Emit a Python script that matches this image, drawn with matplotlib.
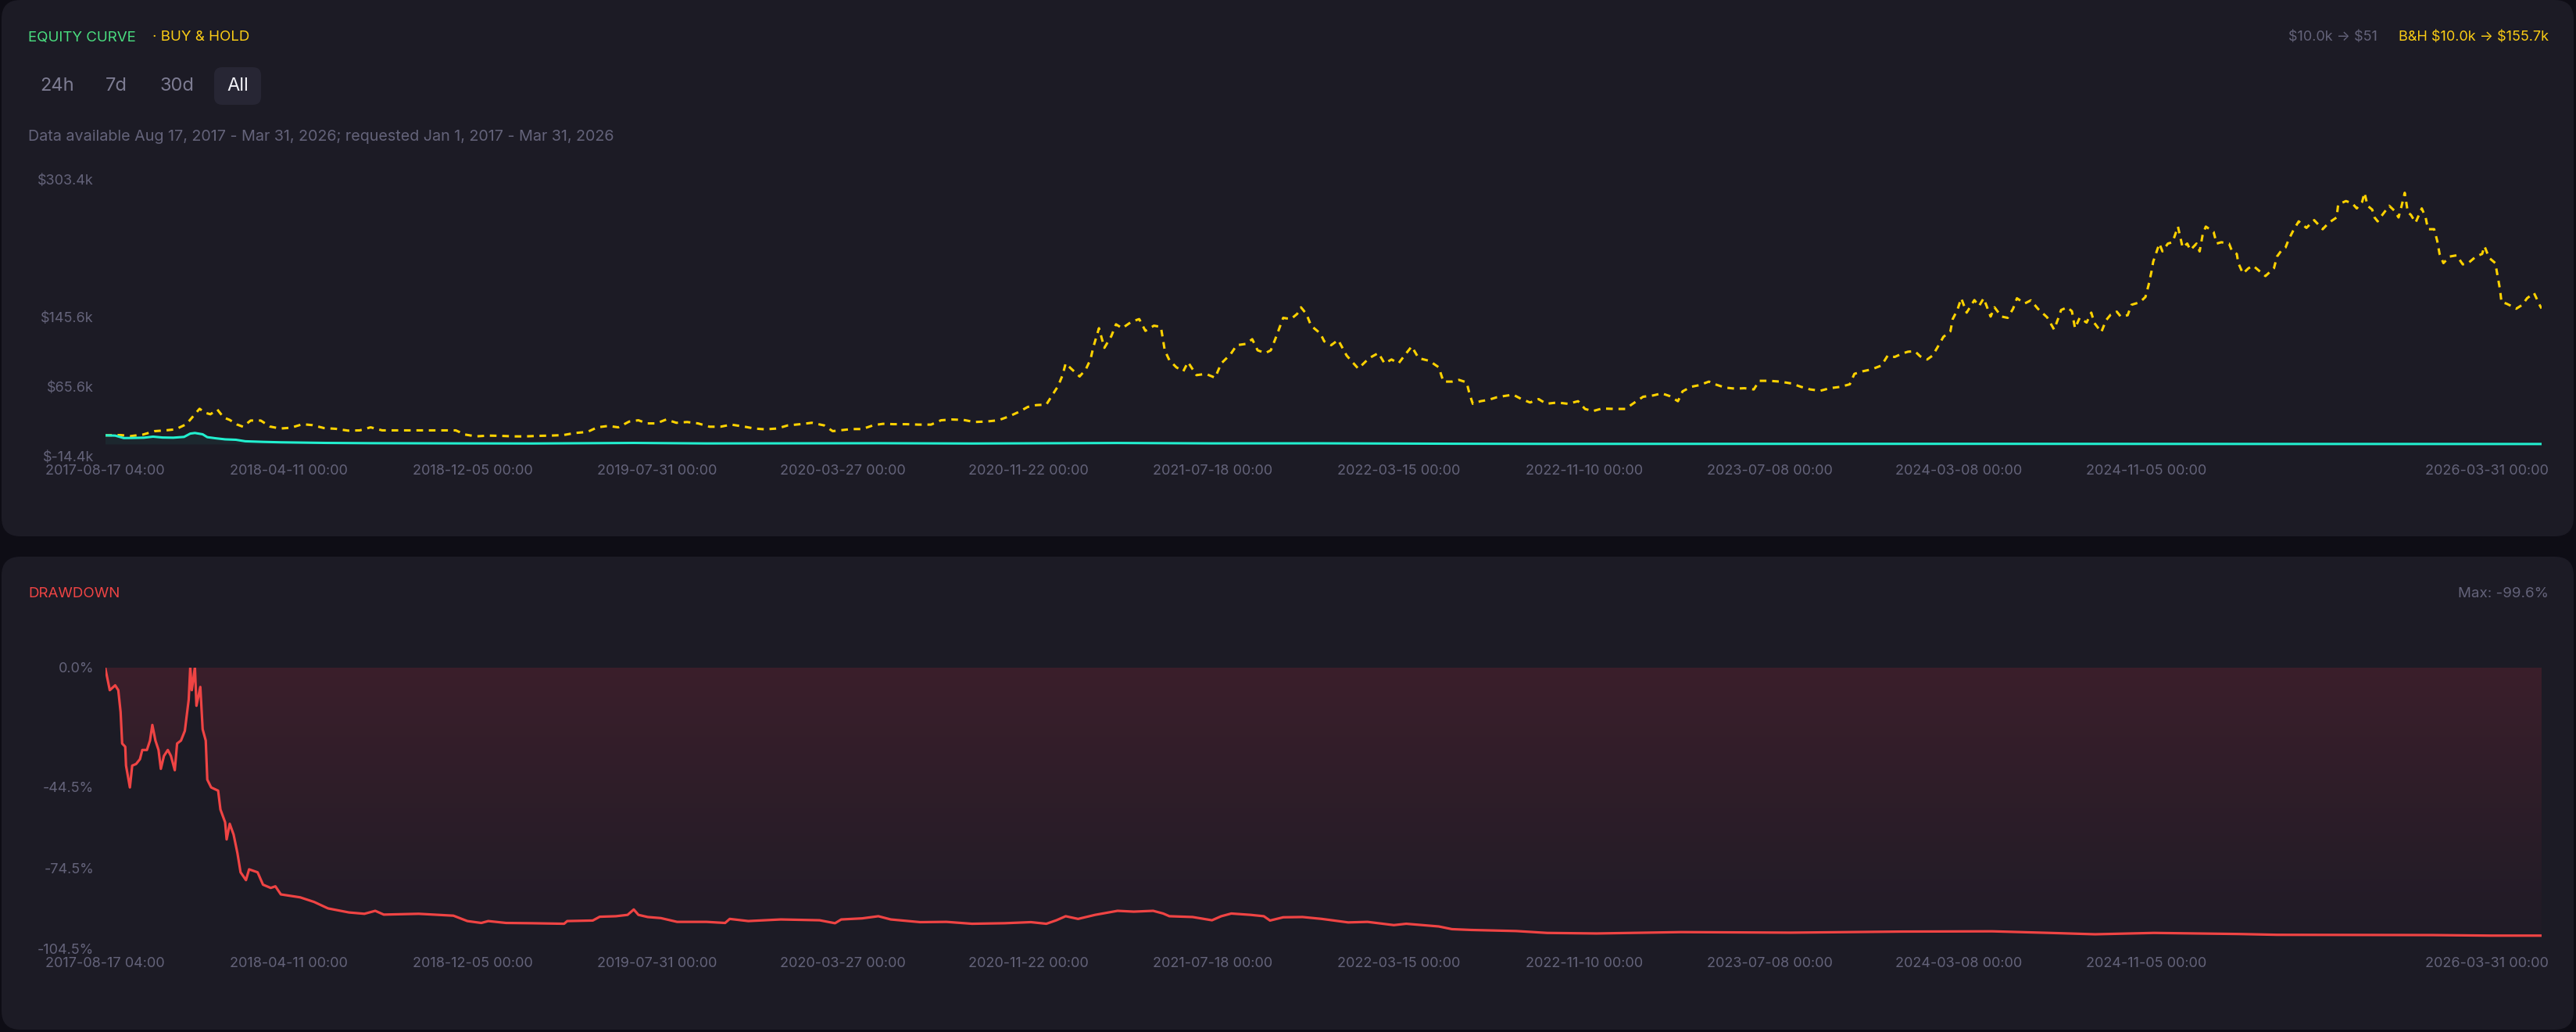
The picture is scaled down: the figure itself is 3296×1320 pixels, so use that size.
import numpy as np
import pandas as pd
import matplotlib
matplotlib.use("Agg")
import matplotlib.pyplot as plt
from matplotlib.patches import FancyBboxPatch
from matplotlib.colors import LinearSegmentedColormap
from matplotlib.transforms import ScaledTranslation

plt.rcParams['font.family'] = ['Inter', 'DejaVu Sans']

# ---- data (days after 2017-08-17 04:00) ----
start = pd.Timestamp("2017-08-17 04:00")
end = pd.Timestamp("2026-03-31 00:00")

bh_days = [0, 20, 33, 49, 64, 78, 91, 105, 116, 122, 129, 136, 145, 153, 161, 170, 178, 188, 201, 213,
           226, 240, 255, 268, 283, 298, 314, 329, 343, 358, 373, 390, 420, 453, 465, 479, 495, 511, 527, 543,
           560, 576, 592, 607, 623, 636, 650, 663, 677, 689, 700, 712, 725, 738, 752, 766, 781, 795, 809, 825,
           839, 853, 868, 882, 898, 913, 929, 940, 949, 964, 978, 993, 1005, 1019, 1035, 1051, 1067, 1080, 1094, 1109,
           1123, 1139, 1154, 1168, 1180, 1192, 1203, 1216, 1223, 1231, 1237, 1241, 1248, 1259, 1267, 1273, 1277, 1284, 1291, 1300,
           1306, 1314, 1326, 1336, 1344, 1355, 1364, 1369, 1375, 1384, 1393, 1399, 1410, 1422, 1434, 1442, 1454, 1462, 1474, 1482,
           1489, 1499, 1506, 1512, 1517, 1522, 1532, 1540, 1545, 1552, 1558, 1570, 1575, 1584, 1593, 1604, 1619, 1633, 1645, 1653,
           1662, 1671, 1680, 1688, 1697, 1711, 1723, 1729, 1740, 1749, 1759, 1763, 1767, 1777, 1787, 1798, 1808, 1819, 1830, 1841,
           1852, 1862, 1876, 1890, 1903, 1912, 1922, 1934, 1950, 1964, 1976, 1987, 2000, 2011, 2021, 2032, 2038, 2049, 2060, 2072,
           2080, 2093, 2106, 2118, 2130, 2137, 2150, 2164, 2179, 2191, 2203, 2216, 2228, 2242, 2254, 2260, 2271, 2282, 2295, 2303,
           2312, 2321, 2329, 2338, 2345, 2354, 2361, 2368, 2375, 2384, 2387, 2393, 2398, 2405, 2415, 2421, 2427, 2436, 2441, 2450,
           2458, 2465, 2470, 2480, 2488, 2497, 2509, 2518, 2523, 2527, 2535, 2541, 2545, 2551, 2560, 2566, 2570, 2579, 2585, 2591,
           2599, 2604, 2613, 2618, 2629, 2636, 2640, 2644, 2646, 2654, 2658, 2665, 2671, 2678, 2684, 2690, 2694, 2702, 2706, 2710,
           2714, 2724, 2728, 2734, 2744, 2748, 2754, 2756, 2762, 2769, 2775, 2783, 2791, 2802, 2806, 2812, 2817, 2821, 2827, 2834,
           2844, 2854, 2865, 2873, 2883, 2885, 2895, 2903, 2909, 2916, 2919, 2923, 2929, 2932, 2936, 2942, 2951, 2958, 2963, 2967,
           2971, 2975, 2979, 2985, 2993, 2998, 3001, 3009, 3013, 3016, 3021, 3029, 3038, 3046, 3053, 3063, 3071, 3074, 3080, 3088,
           3091, 3094, 3096, 3102, 3109, 3115, 3123, 3129, 3138, 3142, 3146, 3147.8]
bh_vals = [10.0, 10.3, 9.1, 10.9, 14.8, 15.7, 16.9, 22.8, 34.2, 40.5, 36.0, 34.2, 39.6, 30.6, 27.7, 22.6, 19.9, 27.0, 27.0, 20.1,
           17.8, 18.7, 22.8, 21.7, 18.3, 17.5, 15.4, 15.7, 19.2, 15.7, 15.7, 15.7, 15.7, 15.7, 10.9, 8.8, 9.7, 9.4, 8.8, 8.8,
           9.4, 9.7, 10.3, 12.7, 13.9, 19.2, 20.8, 19.2, 25.8, 27.3, 23.7, 23.7, 28.2, 24.4, 25.3, 23.7, 19.9, 19.9, 22.3, 20.1,
           17.8, 16.9, 17.8, 21.4, 22.8, 24.4, 21.4, 14.8, 15.7, 17.2, 17.2, 21.7, 23.2, 22.8, 22.8, 22.3, 22.3, 27.3, 28.2, 27.7,
           25.3, 25.9, 27.3, 31.8, 36.7, 42.6, 44.7, 45.3, 55.2, 66.3, 79.1, 92.6, 86.6, 77.6, 85.7, 97.1, 112.1, 133.0, 110.5, 124.0,
           137.5, 133.0, 140.4, 143.5, 130.0, 135.9, 134.5, 107.6, 96.2, 88.1, 83.6, 94.1, 79.1, 80.6, 76.2, 92.6, 103.1, 113.5, 115.0, 120.4,
           107.6, 104.5, 107.6, 121.0, 133.0, 144.9, 143.5, 149.4, 157.0, 149.4, 135.9, 127.0, 118.0, 113.5, 119.5, 101.6, 86.6, 98.6, 104.5, 92.6,
           97.1, 92.6, 103.1, 112.1, 98.6, 95.5, 88.1, 71.7, 71.7, 73.7, 70.8, 56.7, 46.2, 49.2, 50.7, 53.7, 55.2, 56.7, 51.6, 47.7,
           51.6, 46.2, 47.7, 46.2, 49.2, 40.3, 37.8, 40.8, 40.3, 40.3, 47.7, 54.3, 55.8, 58.2, 55.2, 49.2, 60.5, 65.7, 67.7, 71.7,
           68.6, 64.8, 63.6, 64.1, 62.7, 72.6, 72.6, 71.7, 69.5, 65.7, 62.7, 61.2, 64.1, 65.7, 68.6, 80.6, 83.6, 85.7, 90.2, 101.6,
           100.0, 103.6, 106.0, 106.7, 100.7, 97.1, 101.6, 112.1, 123.1, 129.4, 143.5, 153.9, 167.4, 150.9, 165.3, 158.4, 167.4, 146.4, 157.0, 146.4,
           144.9, 155.4, 167.4, 161.4, 165.0, 155.4, 145.5, 131.5, 143.5, 153.9, 157.0, 152.5, 133.0, 144.9, 139.5, 150.9, 139.0, 128.5, 142.0, 148.5,
           152.0, 146.4, 147.9, 159.9, 162.9, 168.9, 182.4, 198.8, 209.3, 230.2, 221.2, 230.2, 231.7, 249.7, 225.7, 230.2, 222.7, 230.2, 221.2, 240.7,
           249.7, 243.7, 230.2, 231.7, 230.2, 221.2, 218.3, 207.8, 195.8, 201.8, 204.8, 198.8, 192.9, 201.8, 215.3, 222.7, 225.7, 234.7, 245.2, 255.7,
           248.2, 257.1, 246.7, 254.2, 260.2, 275.1, 279.0, 276.6, 270.6, 278.1, 288.5, 273.6, 269.2, 260.2, 255.7, 263.1, 273.6, 267.6, 260.2, 273.6,
           288.5, 266.1, 263.1, 254.2, 270.6, 260.2, 246.7, 246.7, 233.2, 218.3, 207.8, 215.3, 216.7, 206.3, 207.8, 215.3, 218.3, 227.2, 213.8, 207.8,
           192.9, 177.9, 162.9, 161.4, 158.4, 155.4, 159.9, 167.4, 173.4, 165.9, 158.4, 155.7]

eq_days = [0, 13, 24, 35, 50, 62, 74, 88, 102, 110, 116, 126, 132, 143, 155, 169, 181, 204, 227, 285,
           343, 459, 551, 683, 777, 999, 1120, 1308, 1430, 1572, 1740, 1863, 2036, 2438, 2806, 3147.8]
eq_vals = [10.0, 9.7, 6.9, 7.0, 7.3, 8.5, 7.5, 7.3, 8.2, 12.0, 12.7, 11.2, 7.9, 6.6, 5.4, 4.9, 3.2, 2.5, 2.0, 1.3,
           1.0, 0.75, 0.63, 1.28, 0.70, 0.96, 0.61, 1.22, 0.77, 0.84, 0.36, 0.18, 0.21, 0.25, 0.09, 0.051]

dd_days = [0, 6, 13, 17, 20, 22, 26, 27, 32, 35, 40, 45, 48, 54, 58, 61, 65, 69, 72, 76,
           81, 85, 90, 93, 98, 103, 108, 110, 112, 116, 118, 123, 126, 130, 132, 137, 146, 149, 155, 157,
           161, 166, 171, 175, 182, 186, 197, 204, 214, 220, 227, 252, 270, 288, 315, 335, 349, 360, 405, 450,
           468, 486, 495, 518, 551, 593, 597, 630, 639, 660, 675, 683, 689, 701, 718, 739, 777, 801, 807, 831,
           873, 923, 943, 951, 978, 999, 1015, 1053, 1087, 1120, 1162, 1196, 1216, 1229, 1241, 1257, 1279, 1308, 1329, 1354,
           1367, 1375, 1405, 1430, 1442, 1455, 1480, 1497, 1505, 1522, 1547, 1572, 1606, 1631, 1665, 1681, 1723, 1740, 1765, 1823,
           1863, 1927, 2036, 2178, 2321, 2438, 2513, 2571, 2647, 2756, 2806, 3007, 3082, 3147.8]
dd_vals = [0, -8.5, -6.7, -8.5, -16.6, -28.3, -29.5, -36.5, -44.6, -36.5, -35.9, -34.1, -30.7, -30.7, -27.2, -21.4, -27.2, -30.7, -37.7, -32.9,
           -30.7, -32.9, -38.2, -28.3, -27.2, -23.6, -12.0, 0, -8.5, 0, -14.3, -7.3, -23.0, -27.2, -41.7, -44.6, -45.8, -52.8, -57.5, -63.9,
           -58.1, -62.1, -69.1, -76.1, -79.0, -75.0, -76.1, -80.7, -81.9, -81.3, -84.3, -85.4, -87.1, -89.5, -91.0, -91.5, -90.4, -91.8, -91.5, -92.2,
           -94.2, -94.9, -94.2, -94.9, -95.0, -95.2, -94.2, -94.0, -92.6, -92.4, -91.9, -89.9, -91.9, -92.7, -93.1, -94.5, -94.5, -94.9, -93.4, -94.2,
           -93.6, -93.9, -95.0, -93.6, -93.2, -92.4, -93.6, -94.6, -94.5, -95.2, -95.0, -94.6, -95.2, -93.9, -92.4, -93.4, -91.9, -90.4, -90.7, -90.4,
           -91.4, -92.4, -92.7, -93.9, -92.4, -91.4, -91.9, -92.4, -94.0, -92.8, -92.7, -93.4, -94.7, -94.5, -95.7, -95.2, -96.2, -97.2, -97.5, -97.9,
           -98.6, -98.8, -98.3, -98.5, -98.1, -98.0, -98.6, -99.1, -98.6, -99.0, -99.3, -99.4, -99.6, -99.6]

xtick_dates = ["2017-08-17 04:00", "2018-04-11 00:00", "2018-12-05 00:00", "2019-07-31 00:00", "2020-03-27 00:00",
               "2020-11-22 00:00", "2021-07-18 00:00", "2022-03-15 00:00", "2022-11-10 00:00", "2023-07-08 00:00",
               "2024-03-08 00:00", "2024-11-05 00:00", "2026-03-31 00:00"]
eq_ticks = [-14.4, 65.6, 145.6, 303.4]
eq_ticklabels = ["$-14.4k", "$65.6k", "$145.6k", "$303.4k"]
dd_ticks = [-104.5, -74.5, -44.5, 0.0]
dd_ticklabels = ["-104.5%", "-74.5%", "-44.5%", "0.0%"]

# ---- colours ----
OUTER = "#0e0d15"
CARD = "#1c1b25"
GRAY = "#64637a"
GREEN = "#4ade80"
GOLD = "#facc15"
TEAL = "#22efcf"
RED = "#ef4444"

def to_dates(days):
    return start + pd.to_timedelta(np.asarray(days, dtype=float), unit="D")

bh_x = to_dates(bh_days)
eq_x = to_dates(eq_days)
dd_x = to_dates(dd_days)

W, H = 3296, 1320
fig = plt.figure(figsize=(W / 100, H / 100), dpi=100, facecolor=OUTER)

# background cards, drawn in pixel coordinates
bg = fig.add_axes([0, 0, 1, 1], zorder=-5)
bg.set_xlim(0, W)
bg.set_ylim(H, 0)
bg.axis("off")
for y0, y1 in [(0, 686), (712, 1317)]:
    bg.add_patch(FancyBboxPatch((2, y0), 3291, y1 - y0, boxstyle="round,pad=0,rounding_size=24",
                                fc=CARD, ec="none"))

# header texts
bg.text(36, 48, "EQUITY CURVE", color=GREEN, fontsize=13.5, va="center", ha="left")
bg.text(195, 48, "· BUY & HOLD", color=GOLD, fontsize=13.5, va="center", ha="left")
bg.text(3042, 48, "\\$10.0k → \\$51", color=GRAY, fontsize=13, va="center", ha="right")
bg.text(3261, 48, "B&H \\$10.0k → \\$155.7k", color=GOLD, fontsize=13, va="center", ha="right")

bg.add_patch(FancyBboxPatch((274, 86), 60, 48, boxstyle="round,pad=0,rounding_size=10",
                            fc="#272634", ec="none"))
for label, xc, col in [("24h", 73.5, "#7d7c92"), ("7d", 149, "#7d7c92"), ("30d", 226.5, "#7d7c92"),
                       ("All", 304.5, "#f0f0f5")]:
    bg.text(xc, 110, label, color=col, fontsize=17, va="center", ha="center")

bg.text(36, 175, "Data available Aug 17, 2017 - Mar 31, 2026; requested Jan 1, 2017 - Mar 31, 2026",
        color=GRAY, fontsize=14.2, va="center", ha="left")

bg.text(36, 759, "DRAWDOWN", color=RED, fontsize=13.5, va="center", ha="left")
bg.text(3261, 759, "Max: -99.6%", color=GRAY, fontsize=13.5, va="center", ha="right")


def px_axes(x0, y0, x1, y1):
    a = fig.add_axes([x0 / W, 1 - y1 / H, (x1 - x0) / W, (y1 - y0) / H])
    a.set_facecolor("none")
    for s in a.spines.values():
        s.set_visible(False)
    return a


def style_x(a):
    ticks = pd.to_datetime(xtick_dates)
    a.set_xticks(ticks)
    a.set_xticklabels(xtick_dates)
    a.tick_params(axis="x", length=0, pad=7.5, labelsize=13, labelcolor=GRAY)
    last = a.xaxis.get_major_ticks()[-1].label1
    last.set_horizontalalignment("right")
    last.set_transform(last.get_transform() + ScaledTranslation(9 / 100, 0, fig.dpi_scale_trans))
    a.set_xlim(start, end)


# ---- equity panel ----
ax1 = px_axes(134.5, 230, 3252, 584)
ax1.fill_between(eq_x, eq_vals, 0, color=TEAL, alpha=0.06, lw=0, zorder=1)
ax1.plot(eq_x, eq_vals, color=TEAL, lw=2.2, zorder=3, solid_joinstyle="round")
ax1.plot(bh_x, bh_vals, color="#ffd200", lw=2.2, linestyle=(0, (2.8, 2.4)), zorder=2)
ax1.set_ylim(-14.4, 303.4)
ax1.set_yticks(eq_ticks)
ax1.set_yticklabels(eq_ticklabels)
ax1.tick_params(axis="y", length=0, pad=10.4, labelsize=13, labelcolor=GRAY)
style_x(ax1)

# ---- drawdown panel ----
ax2 = px_axes(134.5, 853.5, 3252, 1213.6)
poly = ax2.fill_between(dd_x, dd_vals, 0, facecolor="none", edgecolor="none")
grad = np.linspace(0, 1, 256).reshape(-1, 1)
cmap = LinearSegmentedColormap.from_list("dd", ["#3b1f2b", "#1e1b26"])
x0n, x1n = matplotlib.dates.date2num(dd_x[0]), matplotlib.dates.date2num(dd_x[-1])
im = ax2.imshow(grad, extent=[x0n, x1n, -104.5, 0], aspect="auto", cmap=cmap, origin="upper", zorder=1)
im.set_clip_path(poly.get_paths()[0], transform=ax2.transData)
ax2.plot(dd_x, dd_vals, color=RED, lw=2.3, zorder=3)
ax2.set_ylim(-104.5, 0)
ax2.set_yticks(dd_ticks)
ax2.set_yticklabels(dd_ticklabels)
ax2.tick_params(axis="y", length=0, pad=10.4, labelsize=13, labelcolor=GRAY)
style_x(ax2)

fig.savefig("out.png", dpi=100, facecolor=OUTER)
